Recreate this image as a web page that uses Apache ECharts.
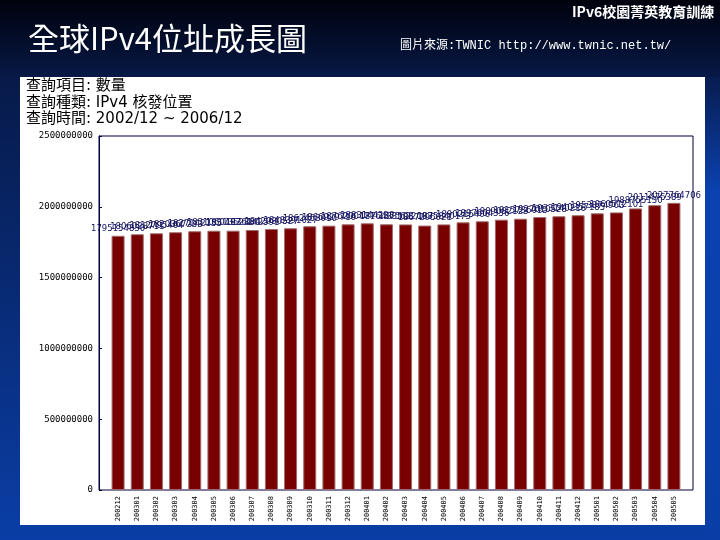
<!DOCTYPE html>
<html>
<head>
<meta charset="utf-8">
<style>
html,body{margin:0;padding:0;background:#000;}
#main{width:720px;height:540px;}
</style>
<script src="https://cdn.jsdelivr.net/npm/echarts@6/dist/echarts.min.js"></script>
</head>
<body>
<div id="main"></div>
<script>
// 月份 (200212 ~ 200505)
var months = ['200212','200301','200302','200303','200304','200305','200306','200307','200308','200309',
	'200310','200311','200312','200401','200402','200403','200404','200405','200406','200407',
	'200408','200409','200410','200411','200412','200501','200502','200503','200504','200505']
// IPv4 核發位置 數量
var counts = [1795154830,1806028711,1812795464,1820367233,1827142155,1831060497,1831352880,1836142591,1842930527,1848391027,
	1862453010,1866929716,1876200471,1883144238,1876433508,1875622093,1867295021,1875840173,1890215406,1897604356,
	1909082123,1915736015,1927610528,1933140216,1940357185,1953874963,1960512101,1988755130,2011475389,2027764706]
var yTicks = [0,500000000,1000000000,1500000000,2000000000,2500000000]
var headerLines = ['查詢項目: 數量','查詢種類: IPv4 核發位置','查詢時間: 2002/12 ~ 2006/12']

var headFont = "'DejaVu Sans','Noto Sans CJK TC',sans-serif"

function drawChart(){
	var myChart = echarts.init(document.getElementById('main'))
	var graphics = [
		{type:'rect',z:-20,shape:{x:0,y:0,width:720,height:540},
			style:{fill:new echarts.graphic.LinearGradient(0,0,0,1,[
				{offset:0,color:'#00020c'},{offset:0.15,color:'#071a4a'},{offset:1,color:'#0a3ea6'}])}},
		{type:'rect',z:-19,shape:{x:705,y:77,width:15,height:463},   //右側藍條
			style:{fill:new echarts.graphic.LinearGradient(0,0,0,1,[
				{offset:0,color:'#081c50'},{offset:0.25,color:'#0b42b0'},{offset:1,color:'#0a3ea6'}])}},
		{type:'rect',z:-10,shape:{x:20,y:77,width:685,height:448},style:{fill:'#ffffff'}},
		{type:'text',left:572,top:5,style:{text:'IPv6校園菁英教育訓練',fill:'#ffffff',
			font:"bold 14px 'Noto Sans CJK TC',sans-serif"}},
		{type:'text',left:28,top:23,style:{text:'全球IPv4位址成長圖',fill:'#ffffff',
			font:"31px 'Noto Sans CJK TC',serif"}},
		{type:'text',left:400,top:40,style:{text:'圖片來源:TWNIC http://www.twnic.net.tw/',fill:'#ffffff',
			font:"12px 'Liberation Mono','Noto Sans CJK TC',monospace"}}
	]
	var headerY = [79,96,112]
	headerLines.forEach(function(t,i){
		graphics.push({type:'text',left:26,top:headerY[i],style:{text:t,fill:'#000000',font:'15px '+headFont}})
	})

	var option = {
		animation:false,
		graphic:graphics,
		grid:[
			{left:99,top:136,width:594,height:354,show:true,backgroundColor:'#ffffff',borderColor:'#000040',borderWidth:1},
			{left:108.5,top:136,width:575,height:354}
		],
		xAxis:[
			{gridIndex:0,type:'value',show:false,min:0,max:1},
			{gridIndex:1,type:'category',data:months,
				axisLine:{show:false},axisTick:{show:false},
				axisLabel:{interval:0,rotate:90,margin:6,fontSize:7,color:'#000000',fontFamily:'DejaVu Sans Mono'}}
		],
		yAxis:[
			{gridIndex:0,type:'value',min:0,max:yTicks[yTicks.length-1],interval:yTicks[1]-yTicks[0],
				splitLine:{show:false},
				axisLine:{show:true,lineStyle:{color:'#000040'}},
				axisTick:{show:true,inside:true,length:3,lineStyle:{color:'#000040'}},
				axisLabel:{margin:6,fontSize:9,color:'#000000',fontFamily:'DejaVu Sans Mono',
					formatter:function(v){return String(v)}}},
			{gridIndex:1,type:'value',min:0,max:yTicks[yTicks.length-1],show:false,splitLine:{show:false}}
		],
		series:[{
			type:'bar',
			xAxisIndex:1,
			yAxisIndex:1,
			data:counts,
			barWidth:13,
			itemStyle:{color:'#780000',borderColor:'#a06a6a',borderWidth:1},
			label:{show:true,position:'top',distance:3,color:'#10105e',fontSize:8.5,fontFamily:'DejaVu Sans'}
		}]
	}
	myChart.setOption(option)
}
drawChart()
</script>
</body>
</html>
